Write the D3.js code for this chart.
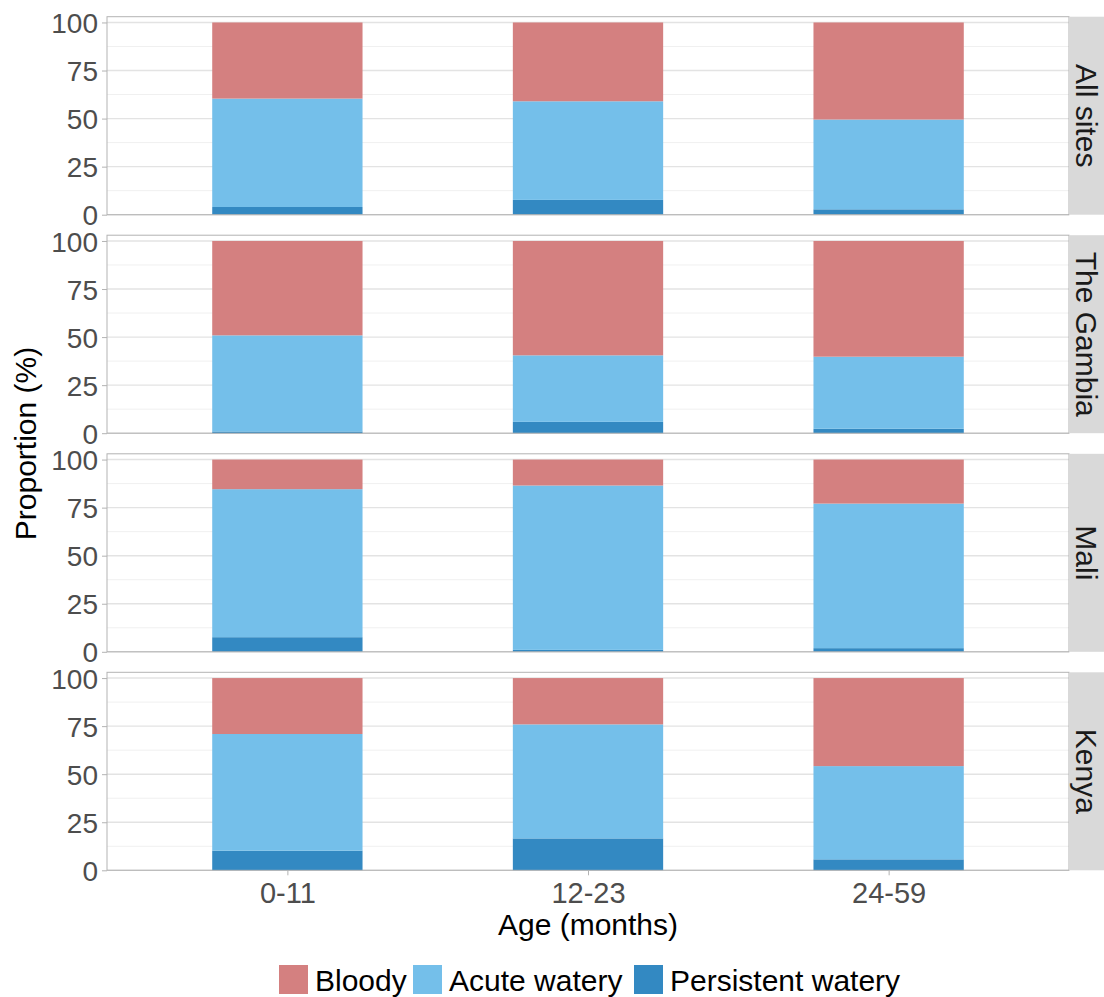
<!DOCTYPE html>
<html><head><meta charset="utf-8">
<script src="https://cdn.jsdelivr.net/npm/d3@7"></script>
<style>body{margin:0;background:#fff;} svg{display:block;font-family:"Liberation Sans",Arial,sans-serif;}</style>
</head><body>
<script>
const sites = ["All sites", "The Gambia", "Mali", "Kenya"];
const ages = ["0-11", "12-23", "24-59"];
const types = ["Persistent watery", "Acute watery", "Bloody"];
const legendOrder = ["Bloody", "Acute watery", "Persistent watery"];
const colors = ["#3389c2", "#74bfea", "#d48080"];
const yTicks = [0, 25, 50, 75, 100];
// proportions (%) per site, per age group
const persistent = [[4.0, 7.7, 2.8], [0.9, 5.9, 2.3], [7.6, 1.0, 1.9], [10.2, 16.6, 5.7]];
const acute      = [[56.4, 51.3, 46.7], [50.0, 34.6, 37.5], [77.0, 85.5, 75.2], [60.7, 59.3, 48.5]];
const bloody     = [[39.6, 41.0, 50.5], [49.1, 59.5, 60.2], [15.4, 13.5, 22.9], [29.1, 24.1, 45.8]];

const W = 1104, H = 997;
const svg = d3.select("body").append("svg").attr("width", W).attr("height", H);
const left = 107, right = 1069, stripW = 36;
const panelTops = [16.7, 235.2, 453.8, 672.3];
const panelH = 198;

// ggplot-style discrete positions 1..3 with 0.6 expansion, bar width 0.5
const xPos = d3.scaleLinear().domain([0.4, 3.6]).range([left, right]);
const barW = xPos(1.5) - xPos(1);
const color = d3.scaleOrdinal().domain(types).range(colors);

sites.forEach((site, si) => {
  const top = panelTops[si];
  const y = d3.scaleLinear().domain([0, 103]).range([top + panelH, top]);
  const g = svg.append("g");
  g.append("rect").attr("x", left).attr("y", top).attr("width", right - left).attr("height", panelH).attr("fill", "#fff");
  d3.range(12.5, 100, 25).forEach(v => {
    g.append("line").attr("x1", left).attr("x2", right).attr("y1", y(v)).attr("y2", y(v))
      .attr("stroke", "#f0f0f0").attr("stroke-width", 1);
  });
  yTicks.forEach(v => {
    g.append("line").attr("x1", left).attr("x2", right).attr("y1", y(v)).attr("y2", y(v))
      .attr("stroke", "#e3e3e3").attr("stroke-width", 1.4);
  });
  const rows = ages.map((a, ai) => ({age: a, "Persistent watery": persistent[si][ai], "Acute watery": acute[si][ai], "Bloody": bloody[si][ai]}));
  const stack = d3.stack().keys(types)(rows);
  stack.forEach(layer => {
    g.selectAll(null).data(layer).enter().append("rect")
      .attr("x", (d, i) => xPos(i + 1) - barW / 2)
      .attr("width", barW)
      .attr("y", d => y(d[1]))
      .attr("height", d => y(d[0]) - y(d[1]))
      .attr("fill", color(layer.key));
  });
  g.append("rect").attr("x", left).attr("y", top).attr("width", right - left).attr("height", panelH)
    .attr("fill", "none").attr("stroke", "#b3b3b3").attr("stroke-width", 1);
  const ya = g.append("g").attr("transform", `translate(${left},0)`)
    .call(d3.axisLeft(y).tickValues(yTicks).tickSize(5).tickPadding(4));
  ya.select(".domain").remove();
  ya.selectAll(".tick line").attr("stroke", "#b3b3b3").attr("stroke-width", 1);
  ya.selectAll(".tick text").attr("fill", "#4d4d4d").style("font-size", "28px").attr("dy", "0.36em");
  g.append("rect").attr("x", right).attr("y", top).attr("width", stripW).attr("height", panelH)
    .attr("fill", "#d9d9d9");
  g.append("text").attr("transform", `translate(${right + stripW / 2},${top + panelH / 2}) rotate(90)`)
    .attr("text-anchor", "middle").attr("dy", "0.36em").attr("fill", "#1a1a1a")
    .style("font-size", "30px").text(site);
  if (si === sites.length - 1) {
    const xa = g.append("g").attr("transform", `translate(0,${top + panelH})`)
      .call(d3.axisBottom(xPos).tickValues([1, 2, 3]).tickFormat((d) => ages[d - 1]).tickSize(5).tickPadding(5));
    xa.select(".domain").remove();
    xa.selectAll(".tick line").attr("stroke", "#b3b3b3");
    xa.selectAll(".tick text").attr("fill", "#4d4d4d").style("font-size", "29px").attr("dy", "0.8em");
  }
});

svg.append("text").attr("transform", `translate(36,${(panelTops[0] + panelTops[3] + panelH) / 2}) rotate(-90)`)
  .attr("text-anchor", "middle").attr("fill", "#000").style("font-size", "30px").text("Proportion (%)");
svg.append("text").attr("x", (left + right) / 2).attr("y", 935)
  .attr("text-anchor", "middle").attr("fill", "#000").style("font-size", "30px").text("Age (months)");

const legX = [279, 413, 634];
legendOrder.forEach((k, i) => {
  svg.append("rect").attr("x", legX[i]).attr("y", 965).attr("width", 29).attr("height", 29).attr("fill", color(k));
  svg.append("text").attr("x", legX[i] + 36).attr("y", 991).attr("fill", "#000").style("font-size", "30px").text(k);
});
</script>
</body></html>
